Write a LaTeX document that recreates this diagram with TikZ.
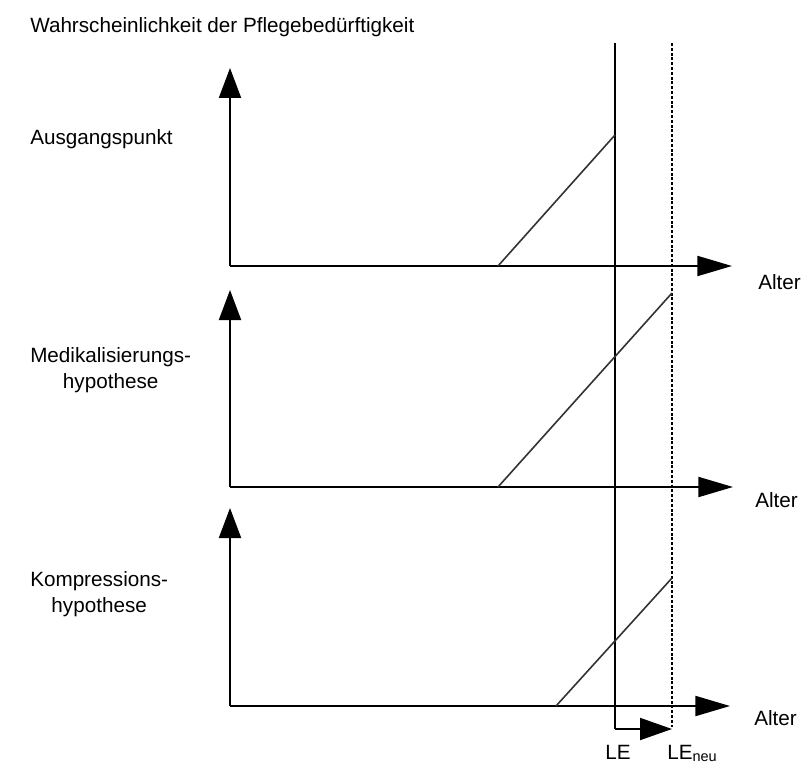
\documentclass[tikz,border=0pt]{standalone}
\usepackage{fontspec}
\setmainfont{Liberation Sans}
\usetikzlibrary{arrows.meta}
\begin{document}
\begin{tikzpicture}[x=0.75pt,y=-0.75pt,
  axis/.style={line width=1.5pt},
  yarrow/.style={axis,-{Triangle[length=22.5pt,width=16.5pt]}},
  xarrow/.style={axis,-{Triangle[length=26pt,width=15pt]}},
  slope/.style={line width=1.2pt,black!80},
  lebar/.style={line width=1.5pt},
  ledot/.style={line width=1.6pt,dash pattern=on 2.3pt off 1.3pt},
  lbl/.style={inner sep=0pt,font=\fontsize{15.5pt}{18pt}\selectfont,text=black},
]
\clip (0,0) rectangle (805,763);
\fill[white] (0,0) rectangle (805,763);
% coordinates
\coordinate (O1) at (230,266); \coordinate (Y1) at (230,68);  \coordinate (X1) at (732,266);
\coordinate (O2) at (230,487); \coordinate (Y2) at (230,290); \coordinate (X2) at (733,487);
\coordinate (O3) at (230,706); \coordinate (Y3) at (230,508); \coordinate (X3) at (730,706);
\coordinate (D1a) at (498,266); \coordinate (D1b) at (615,135);
\coordinate (D2a) at (498,487); \coordinate (D2b) at (672,293);
\coordinate (D3a) at (556,706); \coordinate (D3b) at (672,578);
\coordinate (LEt) at (615,43); \coordinate (LEb) at (615,729); \coordinate (LEe) at (672,729);
\coordinate (LNt) at (672,43); \coordinate (LNb) at (672,727);
% vertical reference lines
\draw[lebar] (LEt) -- (LEb);
\draw[ledot] (LNt) -- (LNb);
% axes
\draw[yarrow] (O1) -- (Y1); \draw[xarrow] (O1) -- (X1);
\draw[yarrow] (O2) -- (Y2); \draw[xarrow] (O2) -- (X2);
\draw[yarrow] (O3) -- (Y3); \draw[xarrow] (O3) -- (X3);
% slopes
\draw[slope] (D1a) -- (D1b);
\draw[slope] (D2a) -- (D2b);
\draw[slope] (D3a) -- (D3b);
% LE bracket arrow
\draw[lebar,-{Triangle[length=24pt,width=16.5pt]}] (LEb) -- (LEe);
% labels
\node[lbl,anchor=base west] (title) at (30,33) {Wahrscheinlichkeit der Pflegebedürftigkeit};
\node[lbl,anchor=base west] (p1) at (30,144) {Ausgangspunkt};
\node[lbl,anchor=base west] (p2) at (30,362) {Medikalisierungs-};
\node[lbl,anchor=base] (p2b) at (p2.base |- 0,388) {hypothese};
\node[lbl,anchor=base west] (p3) at (30,586) {Kompressions-};
\node[lbl,anchor=base] (p3b) at (p3.base |- 0,612) {hypothese};
\node[lbl,anchor=base west] (a1) at (758,289) {Alter};
\node[lbl,anchor=base west] (a2) at (755,507) {Alter};
\node[lbl,anchor=base west] (a3) at (754,725) {Alter};
\node[lbl,anchor=base west] (le) at (605,759) {LE};
\node[lbl,anchor=base west] (len) at (667,759) {LE\textsubscript{neu}};
\end{tikzpicture}
\end{document}
